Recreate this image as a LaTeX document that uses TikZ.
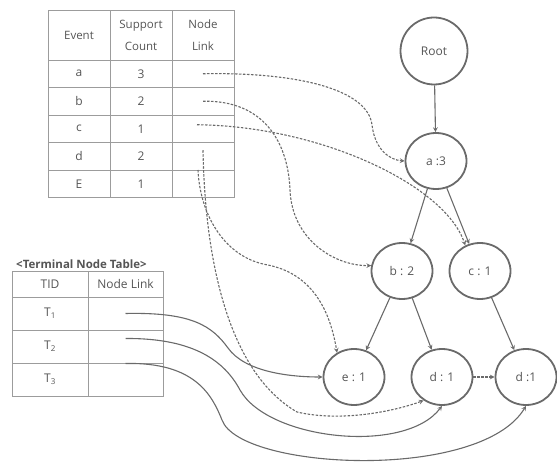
\documentclass[tikz,border=0pt]{standalone}
\usepackage{fontspec}
\setmainfont{Open Sans}
\usetikzlibrary{shapes.geometric, arrows, positioning}
\definecolor{linegray}{HTML}{6A6A6A}
\definecolor{cellgray}{HTML}{9C9C9C}
\definecolor{textgray}{HTML}{555555}
\tikzstyle{rootnode} = [circle, minimum size=67pt, inner sep=0pt, line width=1.8pt, draw=linegray, text=textgray]
\tikzstyle{treenode} = [ellipse, minimum width=61pt, minimum height=56pt, inner sep=0pt, line width=1.8pt, draw=linegray, text=textgray]
\tikzstyle{cell} = [rectangle, minimum width=62pt, minimum height=27.5pt, inner sep=0pt, outer sep=0pt, draw=cellgray, line width=0.8pt, text=textgray, align=center]
\tikzstyle{headcell} = [cell, minimum height=50pt, font=\fontsize{11.5}{22}\selectfont]
\tikzstyle{tcell} = [cell, minimum width=76pt, minimum height=33pt]
\tikzstyle{theadcell} = [tcell, minimum height=26pt]
\tikzstyle{arrow} = [linegray, line width=1.1pt, ->, >=stealth]
\tikzstyle{linkarrow} = [arrow, dash pattern=on 2.5pt off 1.5pt]

\begin{document}
\begin{tikzpicture}[x=1pt, y=-1pt, node distance=110pt, font=\fontsize{12}{14}\selectfont]
	\useasboundingbox (0,0) rectangle (557,465);

		% Event table
		\node (hev) [headcell] at (79,35) {Event};
		\node (hsc) [headcell, right=0pt of hev] {Support\\Count};
		\node (hnl) [headcell, right=0pt of hsc] {Node\\Link};
		\node (ea) [cell, below=0pt of hev] {a};
		\node (sa) [cell, right=0pt of ea] {3};
		\node (la) [cell, right=0pt of sa] {};
		\node (eb) [cell, below=0pt of ea] {b};
		\node (sb) [cell, right=0pt of eb] {2};
		\node (lb) [cell, right=0pt of sb] {};
		\node (ec) [cell, below=0pt of eb] {c};
		\node (sc) [cell, right=0pt of ec] {1};
		\node (lc) [cell, right=0pt of sc] {};
		\node (ed) [cell, below=0pt of ec] {d};
		\node (sd) [cell, right=0pt of ed] {2};
		\node (ld) [cell, right=0pt of sd] {};
		\node (ee) [cell, below=0pt of ed] {E};
		\node (se) [cell, right=0pt of ee] {1};
		\node (le) [cell, right=0pt of se] {};

		% Terminal node table
		\node (tid) [theadcell] at (50,284) {TID};
		\node (tnl) [theadcell, right=0pt of tid, minimum width=75pt] {Node Link};
		\node (t1) [tcell, below=0pt of tid] {T\textsubscript{1}};
		\node (t1l) [tcell, right=0pt of t1, minimum width=75pt] {};
		\node (t2) [tcell, below=0pt of t1] {T\textsubscript{2}};
		\node (t2l) [tcell, right=0pt of t2, minimum width=75pt] {};
		\node (t3) [tcell, below=0pt of t2] {T\textsubscript{3}};
		\node (t3l) [tcell, right=0pt of t3, minimum width=75pt] {};
		\node (ttitle) [anchor=south west, inner sep=1pt, text=textgray, font=\fontsize{11.5}{13}\selectfont\bfseries] at ([xshift=3pt, yshift=1pt]tid.north west) {<Terminal Node Table>};

		% Tree
		\node (root) [rootnode] at (434,51) {Root};
		\node (a3) [treenode, below of=root, xshift=2pt] {a :3};
		\node (b2) [treenode, below of=a3, xshift=-34pt] {b : 2};
		\node (c1) [treenode, below of=a3, xshift=44pt] {c : 1};
		\node (e1) [treenode, below of=b2, xshift=-48pt, yshift=4pt] {e : 1};
		\node (d1) [treenode, below of=b2, xshift=40pt, yshift=4pt] {d : 1};
		\node (d2) [treenode, right of=d1, xshift=-26pt] {d :1};

		% Tree edges
		\draw [arrow] (root) -- (a3);
		\draw [arrow] (a3) -- (b2);
		\draw [arrow] (a3) -- (c1);
		\draw [arrow] (b2) -- (e1);
		\draw [arrow] (b2) -- (d1);
		\draw [arrow] (c1) -- (d2);
		\draw [linkarrow] (d1) -- (d2);

		% Node links
		\draw [linkarrow] (la.center) .. controls (300,72) and (368,90) .. (372,125) .. controls (375,150) and (390,160) .. (a3.west);
		\draw [linkarrow] (lb.center) .. controls (262,100) and (288,140) .. (290,190) .. controls (292,240) and (335,266) .. (b2.170);
		\draw [linkarrow] ([xshift=-6pt, yshift=4pt]lc.center) .. controls (320,126) and (445,185) .. (c1.120);
		\draw [linkarrow] ([yshift=6pt]ld.center) .. controls (205,260) and (228,372) .. (297,412) .. controls (340,422) and (392,412) .. (d1.232);
		\draw [linkarrow] ([xshift=-5pt]le.north) .. controls (200,215) and (225,258) .. (268,265) .. controls (312,274) and (330,310) .. (e1.125);

		% Terminal links
		\draw [arrow] (t1l.center) .. controls (192,312) and (212,326) .. (228,348) .. controls (245,372) and (290,377) .. (e1.west);
		\draw [arrow] ([yshift=8pt]t2l.center) .. controls (195,338) and (225,362) .. (240,390) .. controls (268,440) and (405,455) .. (d1.south);
		\draw [arrow] ([yshift=16pt]t3l.center) .. controls (195,362) and (212,395) .. (222,420) .. controls (240,470) and (480,482) .. (d2.south);

	\end{tikzpicture}
\end{document}
